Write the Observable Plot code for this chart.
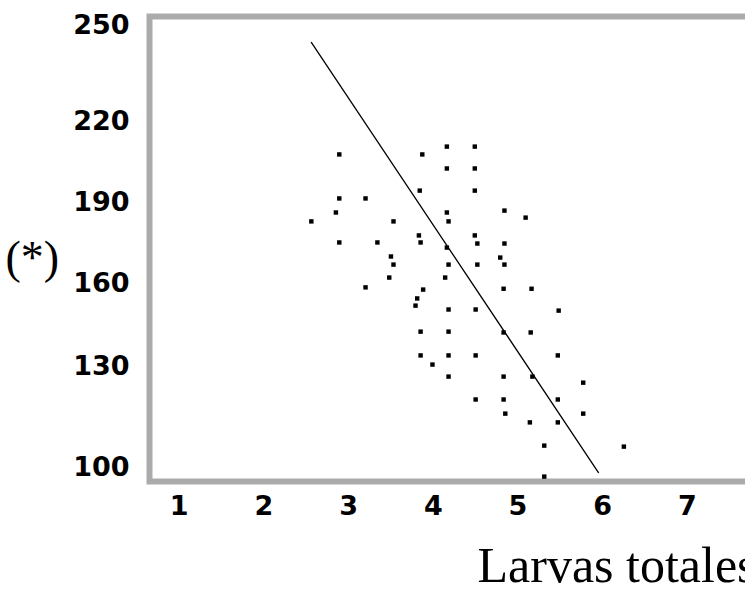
<!DOCTYPE html>
<html>
<head>
<meta charset="utf-8">
<script src="https://cdn.jsdelivr.net/npm/d3@7"></script>
<script src="https://cdn.jsdelivr.net/npm/@observablehq/plot@0.6"></script>
<style>
  html, body { margin: 0; padding: 0; background: white; overflow: hidden; }
</style>
</head>
<body>
<div id="chart"></div>
<script>
// Larvas totales (x) y valores (*) (y)
const larvas = [
  2.89, 3.87, 4.16, 4.49, 4.16, 4.49, 3.84, 4.49, 2.89, 3.20,
  2.85, 2.56, 3.53, 4.16, 4.18, 4.84, 5.09, 3.83, 4.49, 2.89,
  3.34, 3.85, 4.16, 4.52, 4.84, 3.50, 3.53, 4.18, 4.52, 4.84,
  4.79, 3.48, 4.14, 3.20, 3.88, 4.83, 5.16, 3.81, 3.79, 4.18,
  4.50, 5.48, 3.85, 4.18, 4.83, 5.15, 3.85, 4.18, 4.50, 5.47,
  3.99, 4.18, 4.83, 5.17, 5.77, 4.50, 4.83, 5.47, 4.85, 5.77,
  5.14, 5.47, 5.31, 6.25, 5.31
];
const valores = [
  207.8, 207.8, 210.7, 210.7, 202.6, 202.6, 194.4, 194.4, 191.5, 191.5,
  186.3, 183.0, 183.0, 186.3, 183.0, 187.0, 184.4, 177.8, 177.8, 175.2,
  175.2, 175.2, 173.3, 174.8, 174.8, 170.0, 167.0, 167.0, 167.0, 167.0,
  169.6, 162.2, 162.2, 158.6, 157.8, 158.1, 158.1, 154.6, 152.0, 150.6,
  150.6, 150.2, 142.6, 142.6, 142.3, 142.3, 134.0, 134.0, 134.0, 134.0,
  130.7, 127.0, 127.0, 127.0, 125.2, 120.2, 120.2, 120.2, 116.0, 116.0,
  113.4, 113.4, 106.5, 106.2, 97.3
];
// Recta de regresión (extremos)
const rectaX = [2.56, 5.95];
const rectaY = [244.7, 98.5];
// Marcas de los ejes
const ticksX = [1, 2, 3, 4, 5, 6, 7];
const ticksY = [100, 130, 160, 190, 220, 250];
const etiquetaY = "(*)";
const etiquetaX = "Larvas totales";

const puntos = larvas.map((x, i) => ({x, y: valores[i]}));
const recta = rectaX.map((x, i) => ({x, y: rectaY[i]}));

// The printed y axis is not evenly spaced: piecewise mapping value -> vertical position
const yPiece = d3.scaleLinear().domain(ticksY).range([467, 366, 283, 202, 121, 25]);

const chart = Plot.plot({
  width: 745,
  height: 592,
  marginLeft: 149,
  marginTop: 16,
  marginBottom: 111,
  marginRight: -12,
  style: {
    fontFamily: "'DejaVu Sans', sans-serif",
    fontSize: "27px",
    fontWeight: "bold",
    color: "black",
    background: "white"
  },
  x: {
    domain: [0, 8],
    range: [94, 94 + 8 * 84.7],
    ticks: ticksX,
    tickSize: 0,
    tickPadding: 14,
    label: null
  },
  y: {
    transform: yPiece,
    domain: [0, 592],
    range: [0, 592],
    ticks: ticksY.map(yPiece),
    tickFormat: v => String(Math.round(yPiece.invert(v))),
    tickSize: 0,
    tickPadding: 20,
    label: null
  },
  marks: [
    Plot.frame({stroke: "#ababab", strokeWidth: 6}),
    Plot.line(recta, {x: "x", y: "y", stroke: "black", strokeWidth: 1.3}),
    Plot.dot(puntos, {x: "x", y: "y", symbol: "square", r: 2.5, fill: "black", stroke: "none"}),
    Plot.text([etiquetaY], {
      text: d => d, frameAnchor: "left", textAnchor: "start",
      dx: -144, dy: 9, fontFamily: "'Liberation Serif', serif",
      fontSize: 46, fontWeight: "normal", fill: "black"
    }),
    Plot.text([etiquetaX], {
      text: d => d, frameAnchor: "bottom-left", textAnchor: "start",
      dx: 328, dy: 100, fontFamily: "'Liberation Serif', serif",
      fontSize: 50, fontWeight: "normal", fill: "black"
    })
  ]
});
document.getElementById("chart").appendChild(chart);
</script>
</body>
</html>
